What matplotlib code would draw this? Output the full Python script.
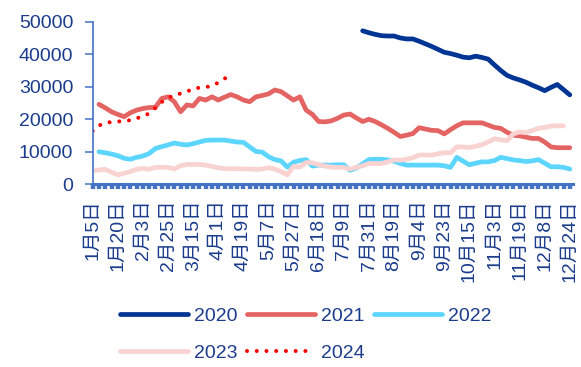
import numpy as np
import matplotlib
matplotlib.use("Agg")
import matplotlib.pyplot as plt

plt.rcParams['font.family'] = ['Liberation Sans', 'Noto Sans CJK SC', 'DejaVu Sans']
plt.rcParams['lines.scale_dashes'] = False

N_CATS = 77
tick_labels = ['1月5日', '1月20日', '2月3日', '2月25日', '3月15日', '4月1日', '4月19日',
               '5月7日', '5月27日', '6月18日', '7月9日', '7月31日', '8月19日', '9月4日',
               '9月23日', '10月15日', '11月3日', '11月19日', '12月8日', '12月24日']
LABEL_STEP = 4

s2020 = [None] * 43 + [
    47200, 46600, 46100, 45700, 45600, 45600, 45000, 44700, 44700, 44000,
    43200, 42400, 41500, 40600, 40200, 39700, 39100, 38900, 39400, 39000,
    38500, 36700, 35000, 33500, 32700, 32100, 31400, 30500, 29700, 28800,
    29800, 30700, 29100, 27500]
s2021 = [None] + [
    24600, 23500, 22300, 21500, 20800, 22000, 22800, 23300, 23600, 23700,
    26400, 26900, 25400, 22300, 24400, 24100, 26400, 25900, 26900, 25900,
    26800, 27600, 26900, 25900, 25400, 26900, 27300, 27800, 29000, 28500,
    27200, 25900, 26900, 22800, 21500, 19300, 19200, 19500, 20300, 21300,
    21600, 20400, 19300, 20000, 19300, 18300, 17200, 16000, 14700, 15100,
    15600, 17400, 17000, 16600, 16500, 15500, 16800, 18000, 18900, 18900,
    18900, 18900, 18200, 17500, 17200, 16000, 15100, 14900, 14500, 14100,
    14100, 13000, 11500, 11250, 11250, 11250]
s2022 = [None] + [
    10000, 9700, 9300, 8800, 8000, 7700, 8300, 8700, 9500, 11000,
    11600, 12100, 12700, 12300, 12100, 12500, 13000, 13500, 13600, 13600,
    13600, 13300, 13000, 12900, 11500, 10100, 9900, 8500, 7600, 7200,
    5300, 6800, 7300, 7600, 5600, 5900, 5900, 5900, 6000, 6000,
    4300, 5000, 6300, 7600, 7700, 7700, 7500, 7100, 6400, 5900,
    5900, 5900, 5900, 5900, 5900, 5700, 5200, 8300, 7100, 6000,
    6500, 6900, 6900, 7300, 8300, 7900, 7500, 7300, 7000, 7200,
    7600, 6500, 5400, 5400, 5200, 4700]
s2023 = [
    4100, 4400, 4600, 3700, 2900, 3400, 3900, 4600, 4900, 4600,
    5200, 5200, 5200, 4700, 5700, 6100, 6100, 6100, 5900, 5500,
    5100, 4800, 4800, 4800, 4700, 4700, 4600, 4700, 5100, 4700,
    3900, 2900, 5500, 5300, 6700, 6600, 6000, 5600, 5300, 5200,
    5200, 4700, 5200, 5700, 6400, 6400, 6400, 6900, 7500, 7400,
    7700, 8200, 9000, 9000, 9000, 9400, 9700, 9700, 11500, 11500,
    11300, 11700, 12200, 13000, 14000, 13700, 13400, 15500, 16100, 15900,
    16500, 17200, 17500, 17900, 18000, 18000]
s2024 = [
    16400, 18100, 18800, 19200, 19300, 19500, 19700, 20300, 20900, 21800,
    23500, 25300, 26500, 27500, 27900, 28500, 29400, 29700, 29900, 30200,
    31300, 32500, 33500]

series_names = ['2020', '2021', '2022', '2023', '2024']
series_values = [s2020, s2021, s2022, s2023, s2024]
series_colors = ['#003594', '#E46464', '#5CD5FF', '#F9D2D2', '#FF0000']

TEXT = '#1B3C8C'
AXIS = '#4472C4'

fig = plt.figure(figsize=(5.81, 3.67), dpi=100)
ax = fig.add_axes([92.7 / 581, 1 - 184.3 / 367, (573 - 92.7) / 581, (184.3 - 21.7) / 367])

handles = {}
for name, vals, col in zip(series_names, series_values, series_colors):
    y = np.array([np.nan if v is None else v for v in vals], dtype=float)
    x = np.arange(len(y))
    if name == '2024':
        ln, = ax.plot(x, y, color=col, lw=2.9, dashes=(0.01, 7.0),
                      dash_capstyle='round', solid_capstyle='round')
    else:
        ln, = ax.plot(x, y, color=col, lw=3.4, solid_capstyle='round',
                      solid_joinstyle='round')
    handles[name] = ln

ax.set_xlim(0, (573 - 92.7) / ((569.8 - 92.7) / 76))
ax.set_ylim(0, 50000)
ax.set_yticks(np.arange(0, 50001, 10000))

major = np.arange(0, N_CATS, LABEL_STEP)
ax.set_xticks(major)
ax.set_xticklabels(tick_labels, rotation=90, ha='center', va='top')
ax.set_xticks(np.arange(N_CATS), minor=True)

for s in ['top', 'right']:
    ax.spines[s].set_visible(False)
ax.spines['left'].set_color(AXIS)
ax.spines['left'].set_linewidth(1.2)
ax.spines['bottom'].set_color(AXIS)
ax.spines['bottom'].set_linewidth(2.2)

ax.tick_params(axis='y', colors=AXIS, labelcolor=TEXT, labelsize=14,
               length=5.5, width=1.1, pad=8.5, direction='out')
ax.tick_params(axis='x', which='both', colors=AXIS, labelcolor=TEXT, labelsize=14,
               length=3.6, width=3.2, pad=7, direction='out')

order = ['2020', '2023', '2021', '2024', '2022']
leg = fig.legend([handles[n] for n in order], order, ncol=3, loc='upper left',
                 bbox_to_anchor=(120 / 581, 1 - 307 / 367), frameon=False,
                 fontsize=14, handlelength=3.5, handletextpad=0.3,
                 columnspacing=0.5, labelspacing=1.0, borderpad=0,
                 borderaxespad=0)
for t in leg.get_texts():
    t.set_color(TEXT)

fig.savefig('out.png', dpi=100)
